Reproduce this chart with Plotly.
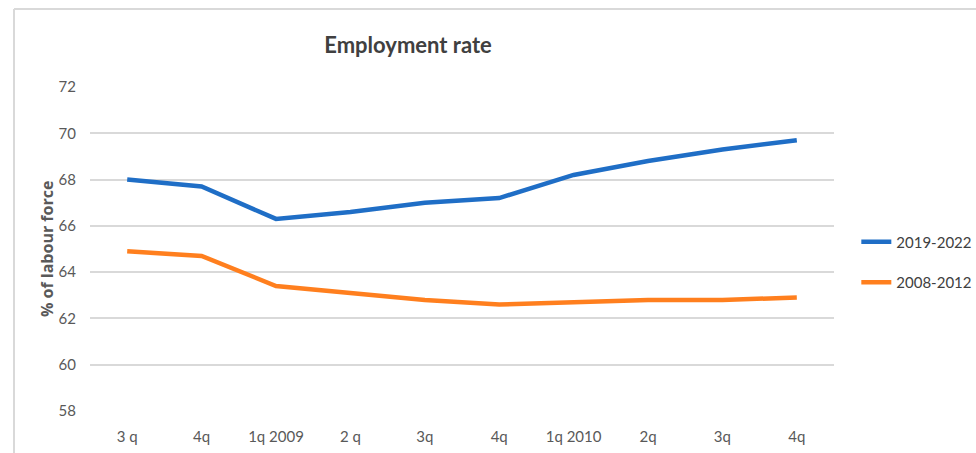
import plotly.graph_objects as go

categories = ["3 q", "4q", "1q 2009", "2 q", "3q", "4q ", "1q 2010", "2q", "3q ", "4q  "]
series_2019_2022 = [68.0, 67.7, 66.3, 66.6, 67.0, 67.2, 68.2, 68.8, 69.3, 69.7]
series_2008_2012 = [64.9, 64.7, 63.4, 63.1, 62.8, 62.6, 62.7, 62.8, 62.8, 62.9]
y_ticks = [58, 60, 62, 64, 66, 68, 70, 72]

FONT = "Lato, Open Sans, sans-serif"
x_idx = list(range(len(categories)))

fig = go.Figure()
fig.add_trace(go.Scatter(x=x_idx, y=series_2019_2022, mode="lines", name="2019-2022",
                         legendgroup="a",
                         line=dict(color="#1f6ec6", width=4.5)))
fig.add_trace(go.Scatter(x=x_idx, y=series_2008_2012, mode="lines", name="2008-2012",
                         legendgroup="b",
                         line=dict(color="#ff7f1e", width=4.5)))

fig.update_layout(
    width=976, height=453,
    margin=dict(l=90, r=142, t=87, b=42, autoexpand=False),
    paper_bgcolor="white", plot_bgcolor="white",
    title=dict(text="<b>Employment rate</b>", x=408/976, xanchor="center", y=1-45/453, yanchor="middle",
               yref="container", xref="container",
               font=dict(family="Lato, Open Sans, sans-serif", size=22, color="#404040")),
    showlegend=True,
    legend=dict(x=1.03, xanchor="left", y=0.46, yanchor="middle",
                font=dict(family=FONT, size=15, color="#404040"),
                tracegroupgap=18, itemwidth=30),
    xaxis=dict(range=[-0.5, len(categories) - 0.5], tickmode="array", tickvals=x_idx,
               ticktext=[c.strip() for c in categories], showgrid=False, zeroline=False,
               showline=False, ticks="outside", ticklen=12, tickcolor="rgba(0,0,0,0)",
               tickfont=dict(family=FONT, size=15, color="#595959")),
    yaxis=dict(range=[58, 72], tickmode="array", tickvals=y_ticks, showgrid=True,
               gridcolor="#d9d9d9", gridwidth=1.5, zeroline=False, showline=False,
               ticks="outside", ticklen=10, tickcolor="rgba(0,0,0,0)",
               tickfont=dict(family=FONT, size=15, color="#595959")),
    font=dict(family=FONT),
)

fig.add_annotation(text="<b>% of labour force</b>", xref="paper", yref="paper",
                   x=(47-90)/744, y=0.5, xanchor="center", yanchor="middle",
                   textangle=-90, showarrow=False,
                   font=dict(family="Open Sans, sans-serif", size=16, color="#595959"))

# outer frame lines (top and left)
fig.add_shape(type="line", xref="paper", yref="paper",
              x0=(14-90)/744, x1=(976-90)/744, y0=(411-9)/324, y1=(411-9)/324,
              line=dict(color="#d9d9d9", width=2))
fig.add_shape(type="line", xref="paper", yref="paper",
              x0=(14-90)/744, x1=(14-90)/744, y0=(411-9)/324, y1=(411-460)/324,
              line=dict(color="#d9d9d9", width=2))

fig.write_html("out.html")
